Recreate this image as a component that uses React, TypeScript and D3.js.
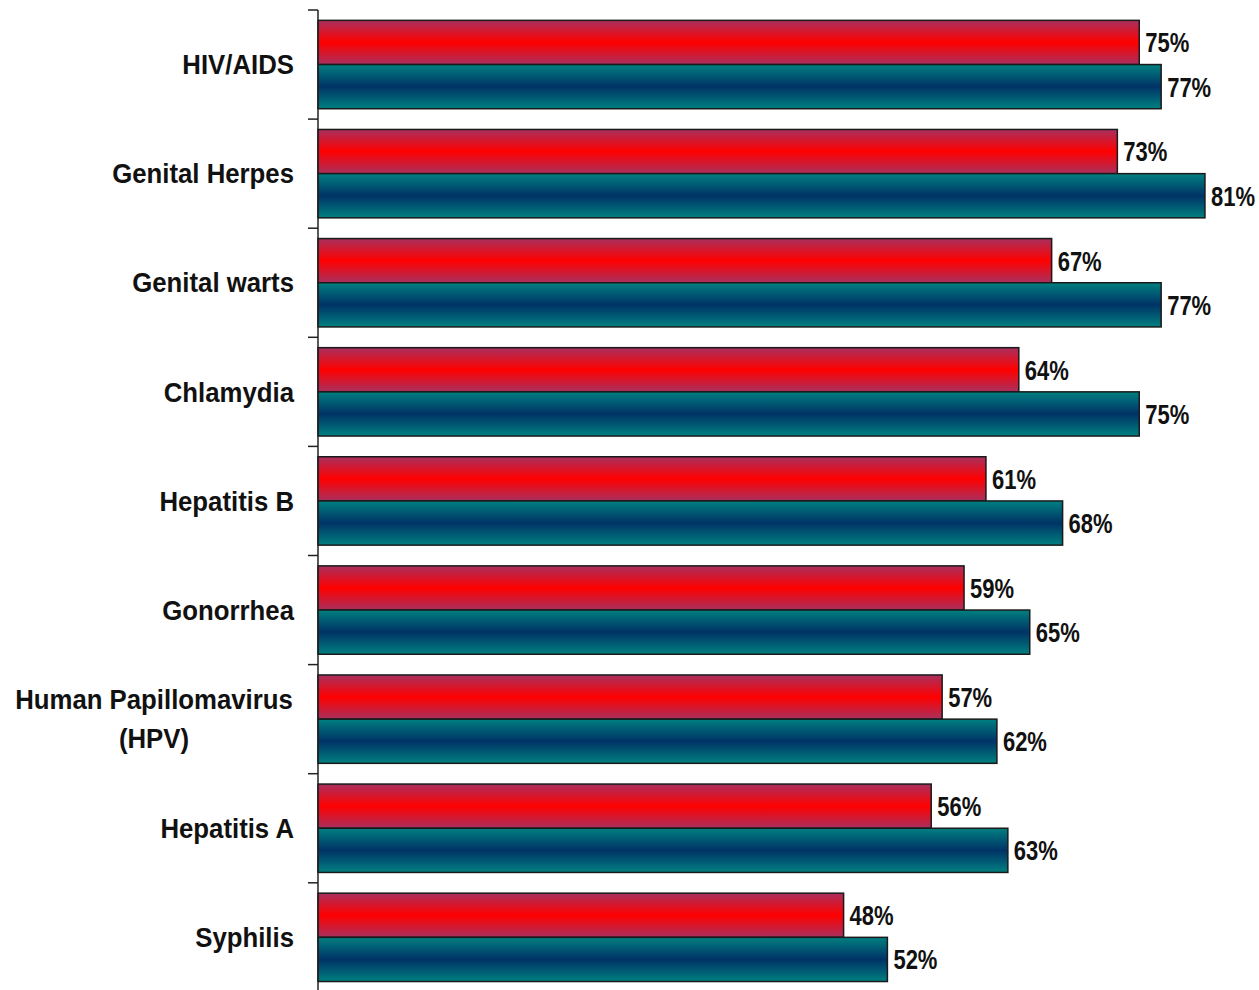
import React from "react";
import * as d3 from "d3";

const categories = [
  "HIV/AIDS",
  "Genital Herpes",
  "Genital warts",
  "Chlamydia",
  "Hepatitis B",
  "Gonorrhea",
  "Human Papillomavirus (HPV)",
  "Hepatitis A",
  "Syphilis",
];
const seriesRed = [75, 73, 67, 64, 61, 59, 57, 56, 48];
const seriesTeal = [77, 81, 77, 75, 68, 65, 62, 63, 52];
const categoryLines: Record<string, string[]> = {
  "Human Papillomavirus (HPV)": ["Human Papillomavirus", "(HPV)"],
};

const W = 1259;
const H = 990;
const axisX = 318;
const top = 10;
const band = 109.1;

export default function App() {
  const x = d3.scaleLinear().domain([0, 100]).range([axisX, axisX + 1095]);
  const y = d3
    .scaleBand<string>()
    .domain(categories)
    .range([top, top + band * categories.length])
    .paddingInner(0.19)
    .paddingOuter(0.095);
  const sub = d3
    .scaleBand<string>()
    .domain(["red", "teal"])
    .range([0, y.bandwidth()]);
  const ticks = d3.range(categories.length + 1).map((i) => top + i * band);
  const font = "'Liberation Sans', Arial, sans-serif";
  const labelScale = 0.955;
  const valueScale = 0.8;

  return (
    <svg
      width={W}
      height={H}
      style={{ position: "absolute", left: 0, top: 0, background: "#fff" }}
    >
      <defs>
        <linearGradient id="gRed" x1="0" y1="0" x2="0" y2="1">
          <stop offset="0" stopColor="#A8305E" />
          <stop offset="0.5" stopColor="#FF0000" />
          <stop offset="1" stopColor="#A8305E" />
        </linearGradient>
        <linearGradient id="gTeal" x1="0" y1="0" x2="0" y2="1">
          <stop offset="0" stopColor="#008080" />
          <stop offset="0.5" stopColor="#003366" />
          <stop offset="1" stopColor="#008080" />
        </linearGradient>
      </defs>
      {categories.map((c, i) => {
        const by = y(c)!;
        const rows = [
          { key: "red", v: seriesRed[i], fill: "url(#gRed)" },
          { key: "teal", v: seriesTeal[i], fill: "url(#gTeal)" },
        ];
        const lines = categoryLines[c] || [c];
        const cy = by + y.bandwidth() / 2;
        return (
          <g key={c}>
            {rows.map((r) => (
              <g key={r.key}>
                <rect
                  x={x(0)}
                  y={by + sub(r.key)!}
                  width={x(r.v) - x(0)}
                  height={sub.bandwidth()}
                  fill={r.fill}
                  stroke="#1a1a1a"
                  strokeWidth={1.5}
                />
                <text
                  transform={`translate(${x(r.v) + 6},${
                    by + sub(r.key)! + sub.bandwidth() / 2
                  }) scale(${valueScale},1)`}
                  dy="0.36em"
                  fontFamily={font}
                  fontWeight="bold"
                  fontSize={27.5}
                  fill="#111"
                >
                  {r.v}%
                </text>
              </g>
            ))}
            {lines.length === 1 ? (
              <text
                transform={`translate(294,${cy}) scale(${labelScale},1)`}
                dy="0.36em"
                textAnchor="end"
                fontFamily={font}
                fontWeight="bold"
                fontSize={27}
                fill="#111"
              >
                {c}
              </text>
            ) : (
              lines.map((l, k) => (
                <text
                  key={k}
                  transform={`translate(154,${
                    cy + (k - (lines.length - 1) / 2) * 39
                  }) scale(${labelScale},1)`}
                  dy="0.36em"
                  textAnchor="middle"
                  fontFamily={font}
                  fontWeight="bold"
                  fontSize={27}
                  fill="#111"
                >
                  {l}
                </text>
              ))
            )}
          </g>
        );
      })}
      <line x1={axisX} x2={axisX} y1={top} y2={H} stroke="#222" strokeWidth={1.5} />
      {ticks.map((t, i) => (
        <line key={i} x1={axisX - 10} x2={axisX} y1={t} y2={t} stroke="#222" strokeWidth={1.5} />
      ))}
    </svg>
  );
}
